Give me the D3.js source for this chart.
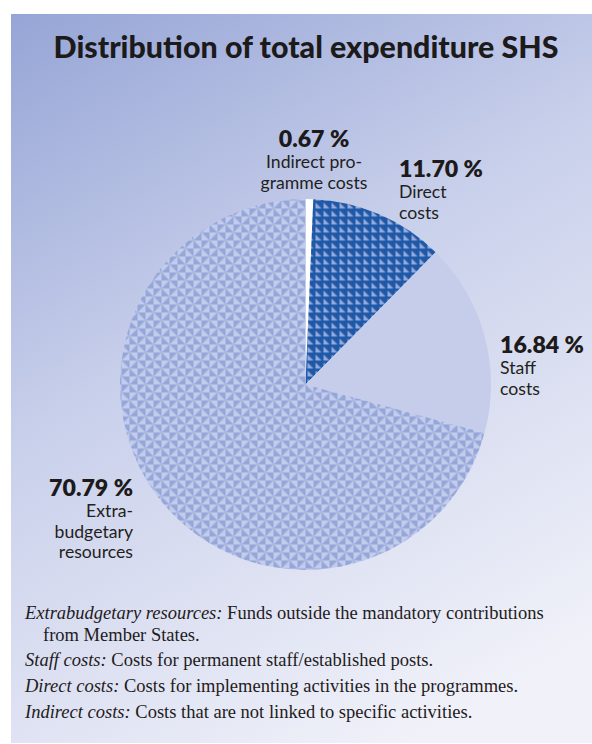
<!DOCTYPE html>
<html>
<head>
<meta charset="utf-8">
<script src="https://cdn.jsdelivr.net/npm/d3@7"></script>
<style>
  html, body { margin: 0; padding: 0; background: #ffffff; }
  svg { display: block; }
</style>
</head>
<body>
<svg id="chart" width="592" height="744"></svg>
<script>
// Expenditure shares, in percent, clockwise from 12 o'clock
const categories = ["Indirect programme costs", "Direct costs", "Staff costs", "Extrabudgetary resources"];
const shares = [0.67, 11.70, 16.84, 70.79];
const labelLines = [["Indirect pro-", "gramme costs"], ["Direct", "costs"], ["Staff", "costs"], ["Extra-", "budgetary", "resources"]];
const title = "Distribution of total expenditure SHS";
const notes = [
  { term: "Extrabudgetary resources:", text: " Funds outside the mandatory contributions", cont: "from Member States." },
  { term: "Staff costs:", text: " Costs for permanent staff/established posts." },
  { term: "Direct costs:", text: " Costs for implementing activities in the programmes." },
  { term: "Indirect costs:", text: " Costs that are not linked to specific activities." }
];

const svg = d3.select("#chart");
const defs = svg.append("defs");

// panel background gradient
const grad = defs.append("linearGradient").attr("id", "bg")
  .attr("gradientUnits", "userSpaceOnUse")
  .attr("x1", 11).attr("y1", 14).attr("x2", 430).attr("y2", 743);
grad.append("stop").attr("offset", 0).attr("stop-color", "#96a5d6");
grad.append("stop").attr("offset", 0.45).attr("stop-color", "#c9d0eb");
grad.append("stop").attr("offset", 1).attr("stop-color", "#f1f2f9");

svg.append("rect").attr("x", 11).attr("y", 14).attr("width", 581).attr("height", 729).attr("fill", "url(#bg)");

// dark triangle pattern for direct costs
const pDirect = defs.append("pattern").attr("id", "pDirect")
  .attr("patternUnits", "userSpaceOnUse").attr("width", 8).attr("height", 8);
pDirect.append("rect").attr("width", 8).attr("height", 8).attr("fill", "#98aad9");
pDirect.append("path").attr("d", "M0,0H8V8Z M0,0H2V8H0Z").attr("fill", "#1d59a8");

// light pinwheel triangle pattern for extrabudgetary resources
const pExtra = defs.append("pattern").attr("id", "pExtra")
  .attr("patternUnits", "userSpaceOnUse").attr("width", 16).attr("height", 16);
pExtra.append("rect").attr("width", 16).attr("height", 16).attr("fill", "#c4cceb");
pExtra.append("path")
  .attr("d", "M0,0V8H8Z M8,0H16L8,8Z M8,8V16H0Z M8,8H16V16Z")
  .attr("fill", "#95a6d9");

const fills = ["#ffffff", "url(#pDirect)", "#c6cdea", "url(#pExtra)"];

const cx = 305.5, cy = 384.5, r = 185.5;
const pie = d3.pie().sort(null).value(d => d)(shares);
const arc = d3.arc().innerRadius(0).outerRadius(r);

const g = svg.append("g").attr("transform", `translate(${cx},${cy})`);
g.selectAll("path.slice").data(pie).join("path")
  .attr("class", "slice")
  .attr("d", arc)
  .attr("fill", (d, i) => fills[i]);

// fit a font size so that a sample string takes a given width
function fitSize(sample, weight, base, width) {
  const probe = svg.append("text")
    .attr("font-family", "Lato, 'Open Sans', sans-serif")
    .attr("font-weight", weight).attr("font-size", base).text(sample);
  const w = probe.node().getComputedTextLength();
  probe.remove();
  return w > 0 ? base * width / w : base;
}

// title
svg.append("text")
  .attr("x", 306).attr("y", 58)
  .attr("text-anchor", "middle")
  .attr("font-family", "Lato, 'Open Sans', sans-serif")
  .attr("font-weight", 900)
  .attr("font-size", fitSize(title, 900, 27, 505))
  .attr("fill", "#1c1a1b")
  .text(title);

// slice labels: bold percentage, then the category name
const labelPos = [
  { x: 314, y: 147, anchor: "middle" },
  { x: 399, y: 177, anchor: "start" },
  { x: 500, y: 353, anchor: "start" },
  { x: 133, y: 496, anchor: "end" }
];
const fmt = d3.format(".2f");
const pctSize = fitSize("11.70 %", 800, 22, 84);
const nameSize = fitSize("Indirect pro-", 400, 16.5, 96);
shares.forEach((v, i) => {
  const p = labelPos[i];
  svg.append("text")
    .attr("x", p.x).attr("y", p.y)
    .attr("text-anchor", p.anchor)
    .attr("font-family", "Lato, 'Open Sans', sans-serif")
    .attr("font-weight", 800).attr("font-size", pctSize)
    .attr("fill", "#1c1a1b")
    .text(fmt(v) + " %");
  labelLines[i].forEach((line, j) => {
    svg.append("text")
      .attr("x", p.x).attr("y", p.y + 21 + j * 20.5)
      .attr("text-anchor", p.anchor)
      .attr("font-family", "Lato, 'Open Sans', sans-serif")
      .attr("font-size", nameSize)
      .attr("fill", "#231f20")
      .text(line);
  });
});

// footnotes
const noteFont = "'Liberation Serif', 'DejaVu Serif', serif";
const noteY = [619, 641, 666, 692, 718];
let k = 0;
notes.forEach(n => {
  const line = svg.append("text")
    .attr("x", 25).attr("y", noteY[k++])
    .attr("font-family", noteFont).attr("font-size", 18.5)
    .attr("fill", "#1f1b1c");
  line.append("tspan").attr("font-style", "italic").text(n.term);
  line.append("tspan").text(n.text);
  if (n.cont) {
    svg.append("text")
      .attr("x", 43).attr("y", noteY[k++])
      .attr("font-family", noteFont).attr("font-size", 18.5)
      .attr("fill", "#1f1b1c")
      .text(n.cont);
  }
});
</script>
</body>
</html>
